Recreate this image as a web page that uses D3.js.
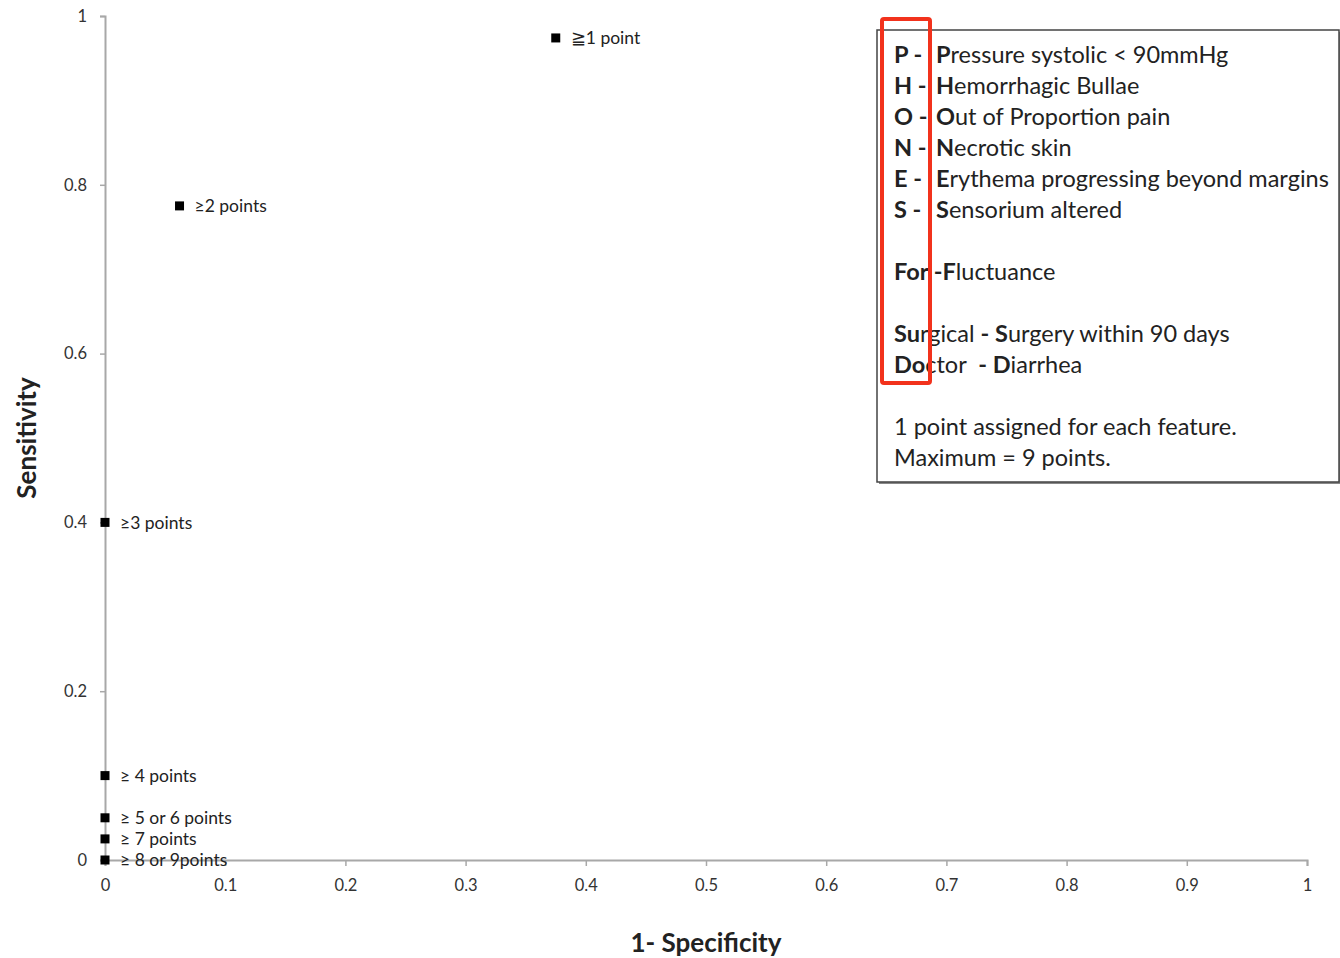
<!DOCTYPE html>
<html>
<head>
<meta charset="utf-8">
<script src="https://cdn.jsdelivr.net/npm/d3@7"></script>
<style>
  body { margin: 0; background: #fff; }
  text { font-family: Lato, "Open Sans", sans-serif; }
</style>
</head>
<body>
<div id="chart"></div>
<script>
const width = 1340;
const height = 958;

// cut-off labels and their ROC coordinates
const cutoffs = ["\u22671 point", "\u22652 points", "\u22653 points", "\u2265 4 points",
                 "\u2265 5 or 6 points", "\u2265 7 points", "\u2265 8 or 9points"];
const oneMinusSpec = [0.375, 0.062, 0, 0, 0, 0, 0];
const sensitivity = [0.974, 0.775, 0.4, 0.1, 0.05, 0.025, 0];

const xTicks = [0, 0.1, 0.2, 0.3, 0.4, 0.5, 0.6, 0.7, 0.8, 0.9, 1];
const yTicks = [0, 0.2, 0.4, 0.6, 0.8, 1];

// legend text: each line is a list of [text, bold] pieces, null = blank line
const legendLines = [
    [["P -", true], ["Pressure systolic < 90mmHg", false, "P"]],
    [["H -", true], ["Hemorrhagic Bullae", false, "H"]],
    [["O -", true], ["Out of Proportion pain", false, "O"]],
    [["N -", true], ["Necrotic skin", false, "N"]],
    [["E -", true], ["Erythema progressing beyond margins", false, "E"]],
    [["S -", true], ["Sensorium altered", false, "S"]],
    null,
    [["For", true], [" -F", true], ["luctuance", false]],
    null,
    [["Su", true], ["rgical ", false], ["- S", true], ["urgery within 90 days", false]],
    [["Do", true], ["ctor  ", false], ["- D", true], ["iarrhea", false]],
    null,
    [["1 point assigned for each feature.", false]],
    [["Maximum = 9 points.", false]]
];

const margin = {left: 105, right: 33, top: 16, bottom: 98};

const svg = d3.select("#chart")
    .append("svg")
    .attr("width", width)
    .attr("height", height);

const x = d3.scaleLinear()
    .domain([0, 1])
    .range([margin.left, width - margin.right]);

const y = d3.scaleLinear()
    .domain([0, 1])
    .range([height - margin.bottom, margin.top]);

const fmt = d => d3.format("")(+d.toFixed(1));

// y axis
const yAxis = svg.append("g")
    .attr("transform", `translate(${x(0)},0)`)
    .call(d3.axisLeft(y).tickValues(yTicks).tickSize(5).tickPadding(13).tickFormat(fmt));

// x axis
const xAxis = svg.append("g")
    .attr("transform", `translate(0,${y(0)})`)
    .call(d3.axisBottom(x).tickValues(xTicks).tickSize(6).tickPadding(13).tickFormat(fmt));

[xAxis, yAxis].forEach(a => {
    a.select(".domain").attr("stroke", "#a8a8a8").attr("stroke-width", 2);
    a.selectAll(".tick line").attr("stroke", "#a8a8a8").attr("stroke-width", 1.5);
    a.selectAll(".tick text")
        .attr("fill", "#333")
        .style("font-size", "16.5px")
        .style("font-family", "Lato, sans-serif");
});

// axis titles
svg.append("text")
    .attr("x", x(0.5))
    .attr("y", 952)
    .attr("text-anchor", "middle")
    .style("font-size", "26px")
    .style("font-weight", "bold")
    .attr("fill", "#222")
    .text("1- Specificity");

svg.append("text")
    .attr("transform", `translate(36,${y(0.5)}) rotate(-90)`)
    .attr("text-anchor", "middle")
    .style("font-size", "26px")
    .style("font-weight", "bold")
    .attr("fill", "#222")
    .text("Sensitivity");

// points
const points = cutoffs.map((c, i) => ({label: c, fpr: oneMinusSpec[i], sens: sensitivity[i]}));

const pts = svg.append("g")
    .selectAll("g")
    .data(points)
    .join("g")
    .attr("transform", d => `translate(${x(d.fpr)},${y(d.sens)})`);

pts.append("rect")
    .attr("x", -4.5)
    .attr("y", -4.5)
    .attr("width", 9)
    .attr("height", 9)
    .attr("fill", "#000");

pts.append("text")
    .attr("x", 15)
    .attr("dy", "0.35em")
    .style("font-size", "17.5px")
    .attr("fill", "#222")
    .text(d => d.label);

// legend box
const box = {x: 877, y: 30, w: 462, h: 452};

svg.append("rect")
    .attr("x", box.x + 2)
    .attr("y", box.y + 2)
    .attr("width", box.w)
    .attr("height", box.h)
    .attr("fill", "#888");

svg.append("rect")
    .attr("x", box.x)
    .attr("y", box.y)
    .attr("width", box.w)
    .attr("height", box.h)
    .attr("fill", "#fff")
    .attr("stroke", "#444")
    .attr("stroke-width", 1.5);

const lineStep = 31;
legendLines.forEach((line, i) => {
    if (!line) return;
    const t = svg.append("text")
        .attr("x", 894)
        .attr("y", 63 + i * lineStep)
        .style("font-size", "23.5px")
        .attr("fill", "#222")
        .attr("xml:space", "preserve")
        .style("white-space", "pre");
    line.forEach((seg, j) => {
        if (seg[2]) {
            // first letter of the body is bold
            t.append("tspan")
                .attr("x", 936)
                .style("font-weight", "bold")
                .text(seg[2]);
            t.append("tspan").text(seg[0].slice(1));
        } else {
            t.append("tspan")
                .style("font-weight", seg[1] ? "bold" : "normal")
                .text(seg[0]);
        }
    });
});

// red highlight frame over the acronym column
svg.append("rect")
    .attr("x", 882)
    .attr("y", 19)
    .attr("width", 48)
    .attr("height", 364)
    .attr("rx", 2)
    .attr("fill", "none")
    .attr("stroke", "#f2321c")
    .attr("stroke-width", 4);
</script>
</body>
</html>
